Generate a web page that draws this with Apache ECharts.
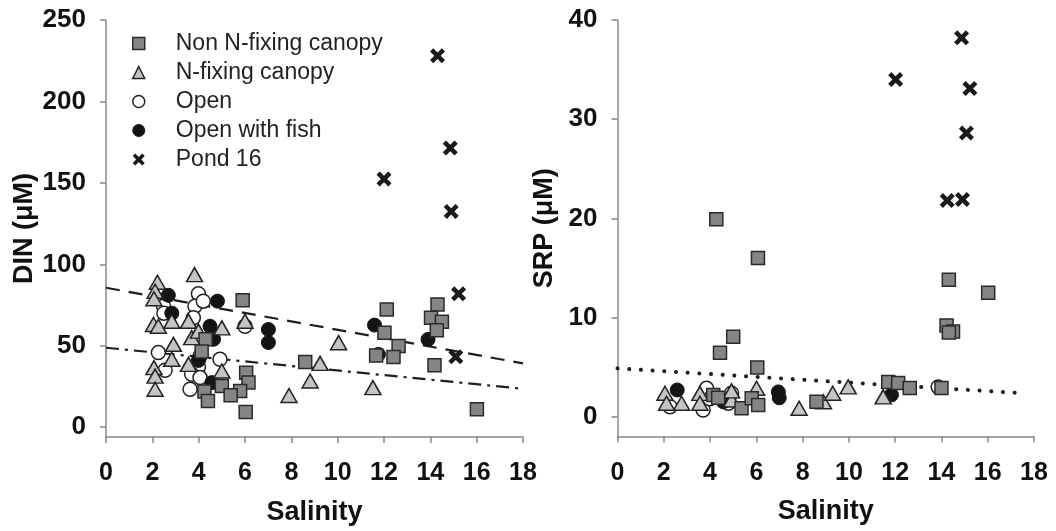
<!DOCTYPE html>
<html>
<head>
<meta charset="utf-8">
<script src="https://cdn.jsdelivr.net/npm/echarts@6/dist/echarts.min.js"></script>
<style>
html,body{margin:0;padding:0;background:#fff;}
#chart{width:1056px;height:531px;}
</style>
</head>
<body>
<div id="chart"></div>
<script>
// ---- Data ----
const xTicks = [0, 2, 4, 6, 8, 10, 12, 14, 16, 18];
const dinTicks = [0, 50, 100, 150, 200, 250];
const srpTicks = [0, 10, 20, 30, 40];

const seriesNames = ['Non N-fixing canopy', 'N-fixing canopy', 'Open', 'Open with fish', 'Pond 16'];

// DIN (µM) vs salinity
const nonFixDIN = [[5.9,78],[4.3,54],[4.13,46.5],[6.05,33.5],[6.15,27.4],[5.0,25.3],[5.79,22.2],[4.25,22],[5.38,19.7],[4.4,16.1],[6.03,9.4],[8.6,40],[12.12,72.3],[12.02,58],[12.63,49.8],[11.66,44.1],[12.41,43.1],[14.31,75.4],[14.03,67.2],[14.5,64.8],[14.28,59.6],[14.18,38],[16.01,11.0]];
const fixDIN = [[2.22,89],[3.82,93.7],[2.12,83.5],[2.07,78.9],[2.05,63.1],[2.26,62],[2.84,65.1],[3.56,65.1],[5.0,61],[6.0,65.1],[3.7,55],[3.99,59],[2.91,50.9],[2.84,41.7],[3.56,38.6],[2.07,36.6],[2.12,31.4],[2.12,23.3],[5.0,34.5],[7.9,19.5],[8.81,28.4],[9.24,39.2],[10.04,51.9],[11.52,24.3]];
const openDIN = [[3.99,82],[2.48,74.3],[2.5,70],[3.84,74.3],[4.2,77.4],[3.77,67.2],[6.0,62],[2.26,45.8],[2.55,35],[3.99,37],[3.7,32.5],[4.92,41.7],[4.06,30.5],[3.63,23.3],[4.06,43.7]];
const fishDIN = [[2.69,81],[4.81,77.4],[2.84,70],[4.49,62],[4.64,54],[7.01,60],[7.01,52],[3.99,41],[4.57,27.4],[11.59,62.7],[11.76,44.7],[13.9,53.9]];
const pondDIN = [[12.0,152.4],[14.31,228],[14.86,171.4],[14.9,132.5],[15.22,81.9],[15.1,43.3]];

// SRP (µM) vs salinity
const nonFixSRP = [[4.27,19.9],[4.43,6.45],[5.0,8.06],[6.07,16.0],[6.04,4.97],[4.14,2.19],[4.35,1.9],[5.36,0.84],[5.8,1.85],[6.08,1.18],[8.6,1.5],[11.7,3.5],[12.13,3.4],[12.63,2.9],[14.0,2.9],[14.32,13.8],[16.02,12.5],[14.22,9.2],[14.5,8.6],[14.32,8.5]];
const fixSRP = [[2.05,2.36],[2.12,1.35],[2.77,1.35],[3.56,2.35],[3.56,1.35],[4.93,1.68],[4.93,2.6],[6.01,2.86],[7.85,0.85],[8.9,1.5],[9.3,2.36],[9.97,3.0],[11.48,2.0]];
const openSRP = [[3.85,2.86],[3.7,0.67],[2.27,1.0],[4.93,2.36],[4.79,1.35],[13.86,3.0],[3.99,1.8]];
const fishSRP = [[2.58,2.69],[4.57,1.51],[6.95,2.5],[6.99,1.9],[11.84,2.2]];
const pondSRP = [[14.87,38.2],[12.02,34.0],[15.23,33.1],[15.08,28.6],[14.25,21.8],[14.91,21.9]];

// Regression lines
const dinLineDashed = [[0,85.6],[18,39.2]];
const dinLineDashDot = [[0,48.8],[18,23.6]];
const srpLineDotted = [[0,4.87],[17.6,2.35]];

// ---- Styles ----
const FONT = '"Liberation Sans", Arial, sans-serif';
const crossPath = 'path://M0,3 L3,0 L7,4 L11,0 L14,3 L10,7 L14,11 L11,14 L7,10 L3,14 L0,11 L4,7 Z';

const styles = {
  'Non N-fixing canopy': {symbol:'rect', symbolSize:13, itemStyle:{color:'#858585', borderColor:'#2a2a2a', borderWidth:1.5, opacity:1}},
  'N-fixing canopy': {symbol:'triangle', symbolSize:[16,14], itemStyle:{color:'#c4c4c4', borderColor:'#222', borderWidth:1.5, opacity:1}},
  'Open': {symbol:'circle', symbolSize:14, itemStyle:{color:'#ffffff', borderColor:'#222', borderWidth:1.5, opacity:1}},
  'Open with fish': {symbol:'circle', symbolSize:14, itemStyle:{color:'#141414', borderColor:'#141414', borderWidth:1, opacity:1}},
  'Pond 16': {symbol:crossPath, symbolSize:15, itemStyle:{color:'#1a1a1a', borderWidth:0, opacity:1}}
};

function scat(name, data, idx) {
  const s = styles[name];
  return {
    type:'scatter', name:name, data:data, xAxisIndex:idx, yAxisIndex:idx,
    symbol:s.symbol, symbolSize:s.symbolSize,
    itemStyle:JSON.parse(JSON.stringify(s.itemStyle)),
    emphasis:{disabled:true}, z:3
  };
}

function line(data, idx, lineStyle) {
  return {type:'line', data:data, xAxisIndex:idx, yAxisIndex:idx, showSymbol:false, symbol:'none',
    lineStyle:lineStyle, silent:true, z:2, animation:false};
}

function xAxisDef(gridIndex) {
  return {
    type:'value', gridIndex:gridIndex, min:0, max:18, interval:2,
    name:'Salinity', nameLocation:'middle', nameGap:62,
    nameTextStyle:{fontFamily:FONT, fontWeight:'bold', fontSize:27, color:'#111'},
    axisLine:{show:true, onZero:false, lineStyle:{color:'#888', width:1.5}},
    axisTick:{show:true, inside:false, length:6, lineStyle:{color:'#888', width:1.5}},
    axisLabel:{fontFamily:FONT, fontWeight:'bold', fontSize:25, color:'#111', margin:24},
    splitLine:{show:false}
  };
}

function yAxisDef(gridIndex, min, max, ticks, name, nameGap) {
  return {
    type:'value', gridIndex:gridIndex, min:min, max:max,
    name:name, nameLocation:'middle', nameGap:nameGap,
    nameTextStyle:{fontFamily:FONT, fontWeight:'bold', fontSize:27, color:'#111'},
    axisLine:{show:true, onZero:false, lineStyle:{color:'#888', width:1.5}},
    axisTick:{show:true, inside:false, length:6, customValues:ticks, lineStyle:{color:'#888', width:1.5}},
    axisLabel:{fontFamily:FONT, fontWeight:'bold', fontSize:26, color:'#111', margin:20, customValues:ticks},
    splitLine:{show:false}
  };
}

const chart = echarts.init(document.getElementById('chart'), null, {renderer:'canvas'});

const darkLine = '#1e1e1e';

const legendData = seriesNames.map(function (n) {
  const s = styles[n];
  return {name:n, icon:s.symbol, itemStyle:JSON.parse(JSON.stringify(s.itemStyle))};
});

const option = {
  backgroundColor:'#ffffff',
  animation:false,
  grid:[
    {left:106, top:20, width:417, height:418},
    {left:617.5, top:20, width:416.5, height:416.5}
  ],
  legend:{
    data:legendData,
    orient:'vertical', left:127, top:27,
    itemWidth:12, itemHeight:12, itemGap:6.0,
    symbolKeepAspect:true,
    textStyle:{fontFamily:FONT, fontSize:23, color:'#222', lineHeight:22, padding:[0,0,0,26]},
    selectedMode:false
  },
  xAxis:[xAxisDef(0), xAxisDef(1)],
  yAxis:[
    yAxisDef(0, -6, 250, dinTicks, 'DIN (\u03bcM)', 68),
    yAxisDef(1, -2, 40, srpTicks, 'SRP (\u03bcM)', 59)
  ],
  series:[
    line(dinLineDashed, 0, {color:darkLine, width:2.2, type:[14,9]}),
    line(dinLineDashDot, 0, {color:darkLine, width:2.2, type:[13,6,3,6]}),
    line(srpLineDotted, 1, {color:darkLine, width:4, type:[0.1,11.6], cap:'round'}),
    scat('Open', openDIN, 0),
    scat('Open with fish', fishDIN, 0),
    scat('N-fixing canopy', fixDIN, 0),
    scat('Non N-fixing canopy', nonFixDIN, 0),
    scat('Pond 16', pondDIN, 0),
    scat('Open', openSRP, 1),
    scat('Open with fish', fishSRP, 1),
    scat('N-fixing canopy', fixSRP, 1),
    scat('Non N-fixing canopy', nonFixSRP, 1),
    scat('Pond 16', pondSRP, 1)
  ]
};

chart.setOption(option);
</script>
</body>
</html>
